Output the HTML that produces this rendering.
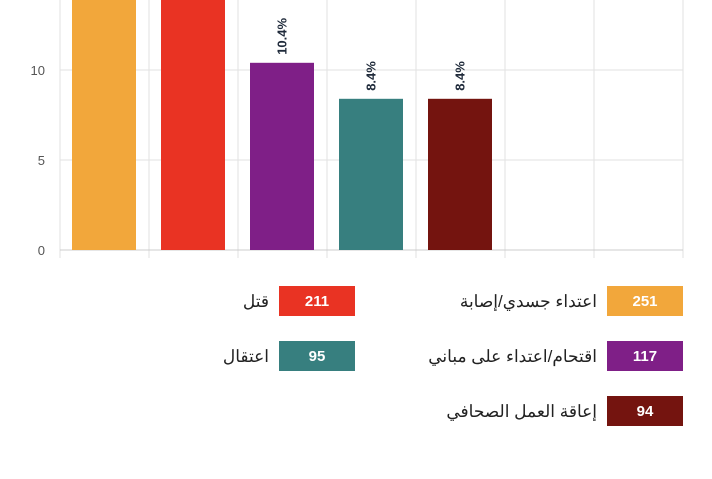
<!DOCTYPE html>
<html><head><meta charset="utf-8"><style>
body{margin:0;background:#fff;width:712px;height:474px;overflow:hidden;font-family:"Liberation Sans","Noto Sans CJK SC",sans-serif}
</style></head><body>
<svg id="chart" width="712" height="474" xmlns="http://www.w3.org/2000/svg"></svg>
<script>
const categories=["اعتداء جسدي/إصابة","قتل","اقتحام/اعتداء على مباني","اعتقال","إعاقة العمل الصحافي","",""];
const values=[22.3,18.8,10.4,8.4,8.4,null,null];
const labels=["22.3%","18.8%","10.4%","8.4%","8.4%","",""];
const counts=[251,211,117,95,94];
const colors=["#f2a73b","#e93323","#7f1f87","#377f7f","#74140f"];
const yTicks=[0,5,10];
const svg=document.getElementById('chart');
const NS="http://www.w3.org/2000/svg";
const x0=60,x1=683,yBase=250,pxPerUnit=18;
const bw=(x1-x0)/categories.length;
const y=v=>yBase-v*pxPerUnit;
function mk(t,a){const e=document.createElementNS(NS,t);for(const k in a)e.setAttribute(k,a[k]);svg.appendChild(e);return e;}
yTicks.forEach(t=>{
 const l=mk('line',{x1:x0,x2:x1,y1:y(t),y2:y(t),stroke:'#e2e2e2','stroke-width':1});
 
 
 const tx=mk('text',{x:45,y:y(t)+5,'text-anchor':'end','font-size':13,fill:'#555'});
 tx.textContent=t;
 
 
});
for(let i=0;i<=categories.length;i++){
 const gx=x0+i*bw;
 const l=mk('line',{x1:gx,x2:gx,y1:0,y2:258,stroke:'#e2e2e2','stroke-width':1});
 
 
}
const base=mk('line',{x1:x0,x2:x1,y1:yBase,y2:yBase,stroke:'#ccc','stroke-width':1});


values.forEach((v,i)=>{
 if(v==null)return;
 const bx=x0+i*bw+12,w=bw-25;
 const r=mk('rect',{x:bx,y:y(v),width:w,height:yBase-y(v),fill:colors[i]});
 
 
 const cx=bx+w/2,ty=y(v)-8;
 const t=mk('text',{x:cx,y:ty,transform:`rotate(-90 ${cx} ${ty})`,'font-size':13,'font-weight':'bold',fill:'#1f2a3a','dominant-baseline':'central'});
 t.textContent=labels[i];
 
 
});
// legend
const legPos=[[607,286],[279,286],[607,341],[279,341],[607,396]];
counts.forEach((c,i)=>{
 const [lx,ly]=legPos[i];
 const r=mk('rect',{x:lx,y:ly,width:76,height:30,fill:colors[i]});
 
 
 const n=mk('text',{x:lx+38,y:ly+20,'text-anchor':'middle','font-size':15,'font-weight':'bold',fill:'#fff'});
 n.textContent=c;
 
 
 const t=mk('text',{x:lx-10,y:ly+21,'text-anchor':'end','font-size':17,fill:'#222','font-family':'"Liberation Sans","Noto Sans CJK SC",sans-serif'});
 t.textContent=categories[i];
 
 
});
</script>
</body></html>
